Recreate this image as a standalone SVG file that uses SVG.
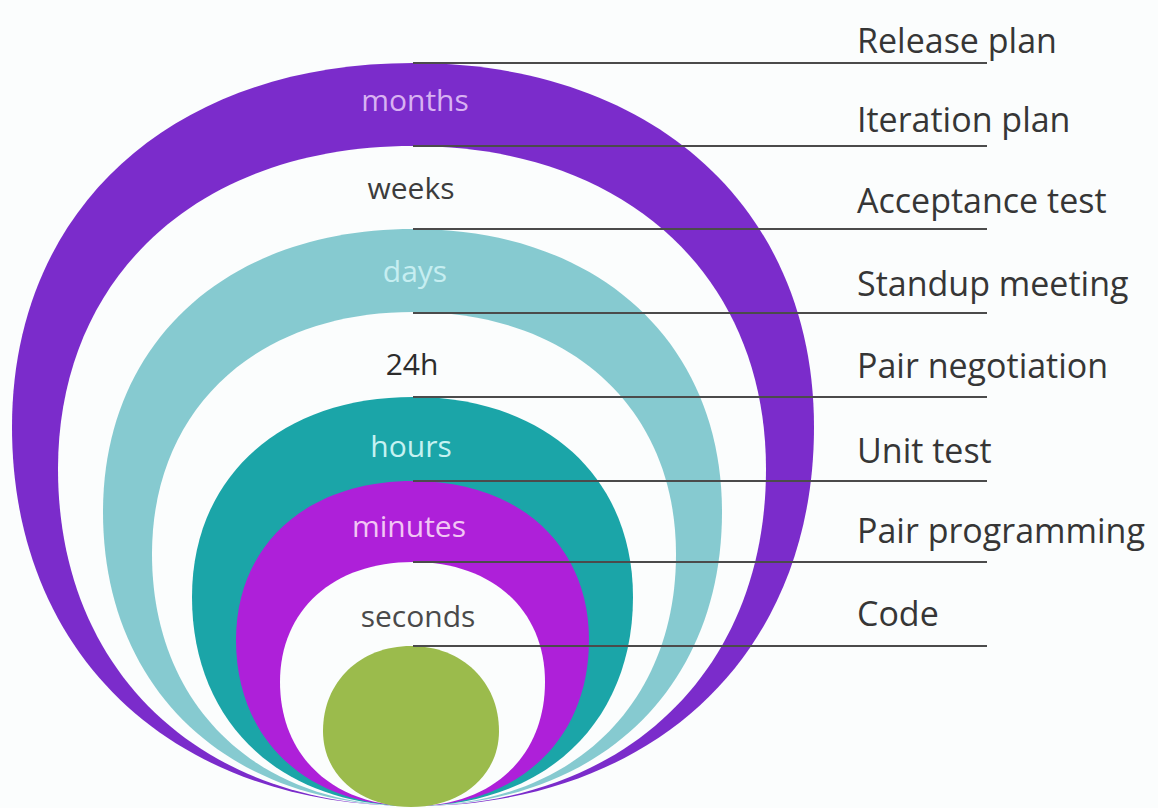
<svg xmlns="http://www.w3.org/2000/svg" width="1158" height="808" viewBox="0 0 1158 808">
<style>
.bg{fill:#fbfdfd}
.purple{fill:#7b2ccb}
.white{fill:#fbfdfd}
.lteal{fill:#86cad0}
.teal{fill:#1ba5a8}
.magenta{fill:#ae20d9}
.green{fill:#9bbb4c}
.in{font-family:"Open Sans","Liberation Sans",sans-serif;font-size:30px;text-anchor:middle}
.lab{font-family:"Open Sans","Liberation Sans",sans-serif;font-size:34px;fill:#363636}
.conn line{stroke:#4b4b4b;stroke-width:2}
</style>
<rect class="bg" x="0" y="0" width="1158" height="808"/>
<g id="ring-months">
<path class="purple" d="M413,806 C172.4,806 12,654.4 12,427 C12,208.6 172.4,63 413,63 C653.6,63 814,208.6 814,427 C814,654.4 653.6,806 413,806Z"/>
<text class="in" x="415" y="111" fill="#d8b2f2">months</text>
</g>
<g id="ring-weeks">
<path class="white" d="M413,806 C200,806 58,671.2 58,469 C58,275.2 200,146 413,146 C624.8,146 766,275.2 766,469 C766,671.2 624.8,806 413,806Z"/>
<text class="in" x="411" y="199" fill="#3c3c3c">weeks</text>
</g>
<g id="ring-days">
<path class="lteal" d="M413,806 C227,806 103,688.4 103,512 C103,342.2 227,229 413,229 C598.4,229 722,342.2 722,512 C722,688.4 598.4,806 413,806Z"/>
<text class="in" x="415" y="282" fill="#c6eef1">days</text>
</g>
<g id="ring-24h">
<path class="white" d="M413,806 C256.4,806 152,705.2 152,554 C152,408.8 256.4,312 413,312 C570.8,312 676,408.8 676,554 C676,705.2 570.8,806 413,806Z"/>
<text class="in" x="412" y="375" fill="#2c2c2c">24h</text>
</g>
<g id="ring-hours">
<path class="teal" d="M413,806 C280.4,806 192,722.4 192,597 C192,477 280.4,397 413,397 C545,397 633,477 633,597 C633,722.4 545,806 413,806Z"/>
<text class="in" x="411" y="457" fill="#c6f2f2">hours</text>
</g>
<g id="ring-minutes">
<path class="magenta" d="M413,806 C306.8,806 236,739.6 236,640 C236,544.6 306.8,481 413,481 C518.6,481 589,544.6 589,640 C589,739.6 518.6,806 413,806Z"/>
<text class="in" x="409" y="537" fill="#f2c6f4">minutes</text>
</g>
<g id="ring-seconds">
<path class="white" d="M413,806 C333.2,806 280,756.4 280,682 C280,610 333.2,562 413,562 C492.2,562 545,610 545,682 C545,756.4 492.2,806 413,806Z"/>
<text class="in" x="418" y="627" fill="#4a4a4a">seconds</text>
</g>
<g id="core">
<path class="green" d="M411,807 C360,807 323,775.1 323,731 C323,681.7 360,646 411,646 C462,646 499,681.7 499,731 C499,775.1 462,807 411,807Z"/>
</g>
<g id="connectors" class="conn">
<line x1="413" y1="63" x2="987" y2="63"/>
<line x1="413" y1="146" x2="987" y2="146"/>
<line x1="413" y1="229" x2="987" y2="229"/>
<line x1="413" y1="313" x2="987" y2="313"/>
<line x1="413" y1="397" x2="987" y2="397"/>
<line x1="413" y1="481" x2="987" y2="481"/>
<line x1="413" y1="562" x2="987" y2="562"/>
<line x1="413" y1="646" x2="987" y2="646"/>
</g>
<g id="label-release"><text class="lab" x="857" y="53">Release plan</text></g>
<g id="label-iteration"><text class="lab" x="857" y="132">Iteration plan</text></g>
<g id="label-acceptance"><text class="lab" x="857" y="213">Acceptance test</text></g>
<g id="label-standup"><text class="lab" x="857" y="296">Standup meeting</text></g>
<g id="label-negotiation"><text class="lab" x="857" y="378">Pair negotiation</text></g>
<g id="label-unit"><text class="lab" x="857" y="463">Unit test</text></g>
<g id="label-pairprog"><text class="lab" x="857" y="543">Pair programming</text></g>
<g id="label-code"><text class="lab" x="857" y="626">Code</text></g>
</svg>
